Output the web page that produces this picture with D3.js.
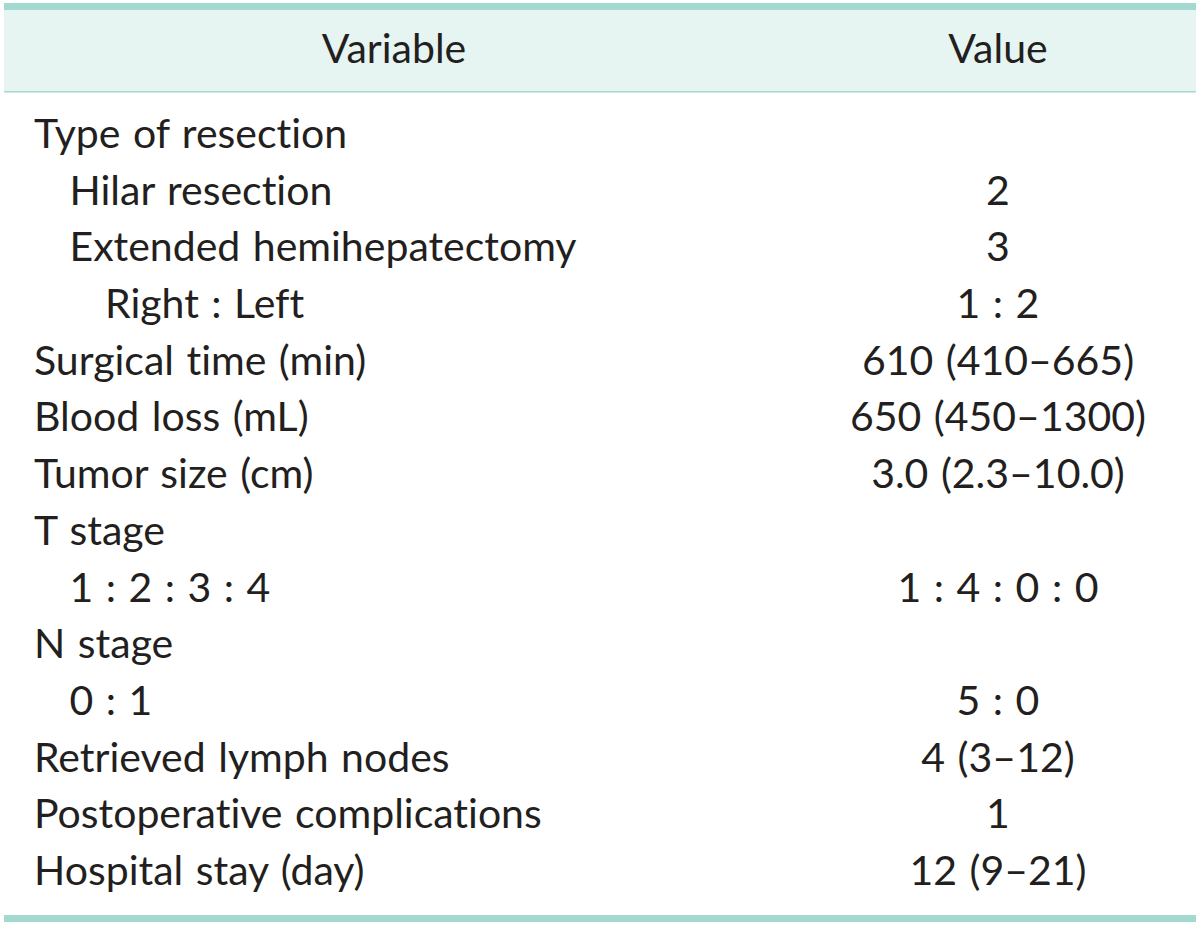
<!DOCTYPE html>
<html><head><meta charset="utf-8">
<script src="https://cdn.jsdelivr.net/npm/d3@7"></script>
<style>html,body{margin:0;padding:0;background:#fff;} text{font-variant-ligatures:none;font-feature-settings:"liga" 0;}</style>
</head><body>
<script>
const headers = ["Variable", "Value"];
const variables = ["Type of resection","Hilar resection","Extended hemihepatectomy","Right : Left","Surgical time (min)","Blood loss (mL)","Tumor size (cm)","T stage","1 : 2 : 3 : 4","N stage","0 : 1","Retrieved lymph nodes","Postoperative complications","Hospital stay (day)"];
const indents = [0,1,1,2,0,0,0,0,1,0,1,0,0,0];
const values = ["","2","3","1 : 2","610 (410\u2013665)","650 (450\u20131300)","3.0 (2.3\u201310.0)","","1 : 4 : 0 : 0","","5 : 0","4 (3\u201312)","1","12 (9\u201321)"];

const W = 1200, H = 926;
const svg = d3.select("body").append("svg").attr("width", W).attr("height", H);
const font = "Lato, 'Open Sans', sans-serif";
const fs = "41px";
const ink = "#231f20";
const x0 = 4, x1 = 1196;
const rowY = d3.scaleLinear().domain([0, variables.length - 1]).range([148, 885]);

svg.append("rect").attr("x", x0).attr("y", 9).attr("width", x1 - x0).attr("height", 82).attr("fill", "#e6f4f2");
svg.append("rect").attr("x", x0).attr("y", 3).attr("width", x1 - x0).attr("height", 7).attr("fill", "#a3d9cf");
svg.append("rect").attr("x", x0).attr("y", 91).attr("width", x1 - x0).attr("height", 1.5).attr("fill", "#a3d9cf");
svg.append("rect").attr("x", x0).attr("y", 915).attr("width", x1 - x0).attr("height", 7).attr("fill", "#a3d9cf");

const hx = [394, 998];
svg.selectAll("text.h").data(headers).enter().append("text")
  .attr("x", (d, i) => hx[i]).attr("y", 63).attr("text-anchor", "middle")
  .style("font-family", font).style("font-size", fs).style("word-spacing", "2px").attr("fill", ink).text(d => d);

svg.selectAll("text.v").data(variables).enter().append("text")
  .attr("x", (d, i) => 34 + indents[i] * 35.5).attr("y", (d, i) => rowY(i))
  .style("font-family", font).style("font-size", fs).style("word-spacing", "2px").attr("fill", ink).text(d => d);

svg.selectAll("text.val").data(values).enter().append("text")
  .attr("x", 998).attr("y", (d, i) => rowY(i)).attr("text-anchor", "middle")
  .style("font-family", font).style("font-size", fs).style("word-spacing", "2px").attr("fill", ink).text(d => d);
</script>
</body></html>
